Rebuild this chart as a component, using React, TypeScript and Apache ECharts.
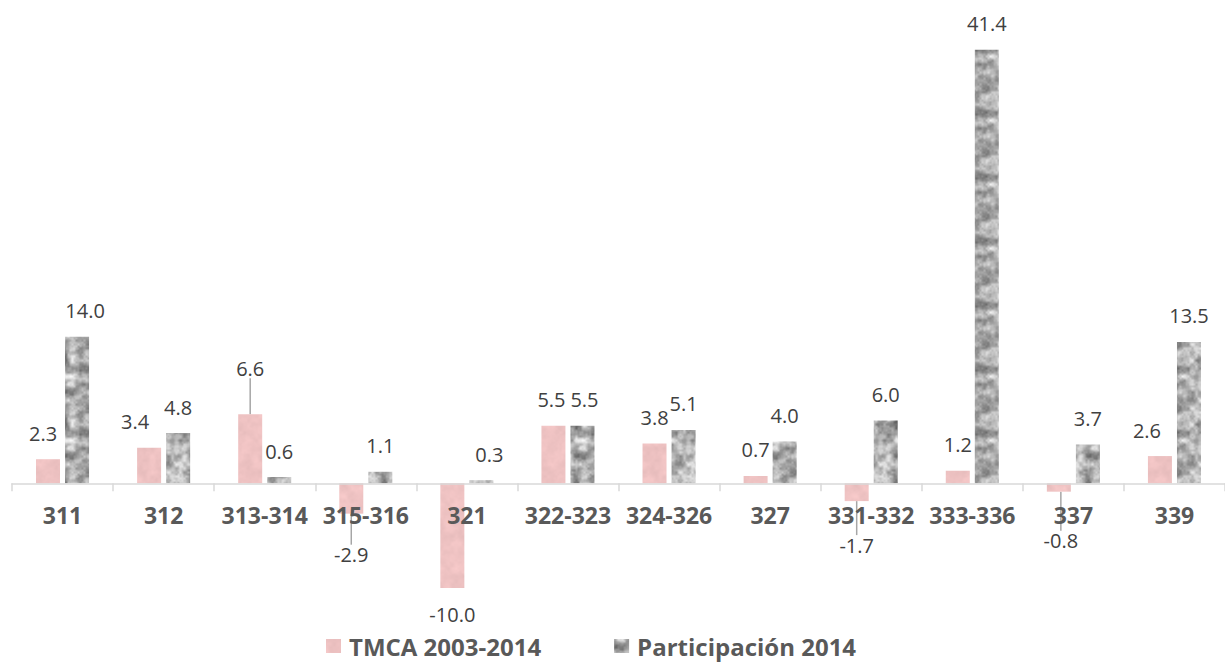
import React, { useEffect, useRef } from 'react';
import * as echarts from 'echarts';

const categories = ['311', '312', '313-314', '315-316', '321', '322-323', '324-326', '327', '331-332', '333-336', '337', '339'];
const tmcaValues = [2.3, 3.4, 6.6, -2.9, -10.0, 5.5, 3.8, 0.7, -1.7, 1.2, -0.8, 2.6];
const participacionValues = [14.0, 4.8, 0.6, 1.1, 0.3, 5.5, 5.1, 4.0, 6.0, 41.4, 3.7, 13.5];
const seriesNames = ['TMCA 2003-2014', 'Participación 2014'];

// label placement tweaks (style only)
const tmcaLeaderMove: Record<number, [number, number]> = { 2: [0, -20], 3: [0, 15], 8: [0, 18], 10: [2, 23] };
const tmcaLabelShift: Record<number, [number, number]> = { 0: [-5, 0], 1: [-14, 0], 5: [-2, 0], 11: [-13, 0] };
const partLabelShift: Record<number, [number, number]> = { 0: [8, 0], 4: [8, 0], 5: [2, 0] };

function hash2(x: number, y: number, s: number) {
  const v = Math.sin(x * 127.1 + y * 311.7 + s * 74.7) * 43758.5453;
  return v - Math.floor(v);
}

// tileable value noise texture (deterministic, purely decorative)
function makeNoiseTexture(size: number, base: number, amp: number, tint: [number, number, number], seed: number) {
  const c = document.createElement('canvas');
  c.width = size;
  c.height = size;
  const ctx = c.getContext('2d')!;
  const img = ctx.createImageData(size, size);
  const octave = (x: number, y: number, cell: number, s: number) => {
    const n = size / cell;
    const gx = x / cell, gy = y / cell;
    const x0 = Math.floor(gx), y0 = Math.floor(gy);
    const fx = gx - x0, fy = gy - y0;
    const sx = fx * fx * (3 - 2 * fx), sy = fy * fy * (3 - 2 * fy);
    const h = (a: number, b: number) => hash2(((a % n) + n) % n, ((b % n) + n) % n, s);
    const a = h(x0, y0), b = h(x0 + 1, y0), cc = h(x0, y0 + 1), d = h(x0 + 1, y0 + 1);
    return (a * (1 - sx) + b * sx) * (1 - sy) + (cc * (1 - sx) + d * sx) * sy;
  };
  for (let y = 0; y < size; y++) {
    for (let x = 0; x < size; x++) {
      const v = 0.55 * octave(x, y, 8, seed) + 0.3 * octave(x, y, 4, seed + 3) + 0.15 * octave(x, y, 2, seed + 7);
      const g = base + amp * (v - 0.5) * 2.2;
      const i = (y * size + x) * 4;
      img.data[i] = Math.max(0, Math.min(255, g * tint[0]));
      img.data[i + 1] = Math.max(0, Math.min(255, g * tint[1]));
      img.data[i + 2] = Math.max(0, Math.min(255, g * tint[2]));
      img.data[i + 3] = 255;
    }
  }
  ctx.putImageData(img, 0, 0);
  return c;
}

export default function App() {
  const ref = useRef<HTMLDivElement>(null);
  useEffect(() => {
    if (!ref.current) return;
    const chart = echarts.init(ref.current, null, { renderer: 'svg' });
    const grayCanvas = makeNoiseTexture(64, 168, 85, [1, 1, 1], 11);
    const pinkCanvas = makeNoiseTexture(64, 232, 10, [1.03, 0.84, 0.84], 5);
    const grayPattern: any = { image: grayCanvas, repeat: 'repeat', imageWidth: 64, imageHeight: 64 };
    const pinkPattern: any = { image: pinkCanvas, repeat: 'repeat', imageWidth: 64, imageHeight: 64 };
    const font = 'Open Sans';
    const valueLabel = {
      show: true,
      distance: 16,
      fontSize: 20,
      color: '#404040',
      fontFamily: font,
      formatter: (p: any) => Number(p.value).toFixed(1),
    };
    const option: any = {
      animation: false,
      backgroundColor: '#ffffff',
      grid: { left: 12, right: -11, top: 12, bottom: 178.7, containLabel: false },
      legend: {
        data: seriesNames,
        left: 321,
        top: 629,
        icon: 'rect',
        itemWidth: 15,
        itemHeight: 14,
        itemGap: 73,
        textStyle: { fontSize: 24, lineHeight: 24, fontWeight: 'bold', color: '#595959', fontFamily: font, padding: [0, 0, 0, 3] },
      },
      xAxis: {
        type: 'category',
        data: categories,
        z: 5,
        axisLine: { show: true, lineStyle: { color: '#d9d9d9', width: 1.5 } },
        axisTick: { show: true, length: 8, lineStyle: { color: '#d9d9d9', width: 1.5 } },
        axisLabel: { interval: 0, fontSize: 23, fontWeight: 'bold', color: '#595959', fontFamily: font, margin: 20 },
      },
      yAxis: {
        type: 'value',
        min: 0,
        max: 45,
        show: false,
        splitLine: { show: false },
      },
      series: [
        {
          name: seriesNames[0],
          type: 'bar',
          barWidth: 24,
          barGap: '21%',
          clip: false,
          itemStyle: { color: pinkPattern },
          data: tmcaValues.map((v, i) => ({
            value: v,
            label: { position: v < 0 ? 'bottom' : 'top' },
            labelLine: { show: !!tmcaLeaderMove[i] },
          })),
          label: valueLabel,
          labelLayout: (p: any) => {
            const m = tmcaLeaderMove[p.dataIndex] || tmcaLabelShift[p.dataIndex];
            return m ? { dx: m[0], dy: m[1] } : {};
          },
          labelLine: { show: false, lineStyle: { color: '#a6a6a6', width: 1.5 } },
        },
        {
          name: seriesNames[1],
          type: 'bar',
          barWidth: 24,
          barGap: '21%',
          clip: false,
          itemStyle: { color: grayPattern },
          data: participacionValues.map((v) => ({
            value: v,
            label: { position: v < 0 ? 'bottom' : 'top' },
          })),
          label: valueLabel,
          labelLayout: (p: any) => {
            const m = partLabelShift[p.dataIndex];
            return m ? { dx: m[0], dy: m[1] } : {};
          },
        },
      ],
    };
    chart.setOption(option);
    return () => chart.dispose();
  }, []);
  return <div ref={ref} style={{ position: 'absolute', left: 0, top: 0, width: 1225, height: 662 }} />;
}
